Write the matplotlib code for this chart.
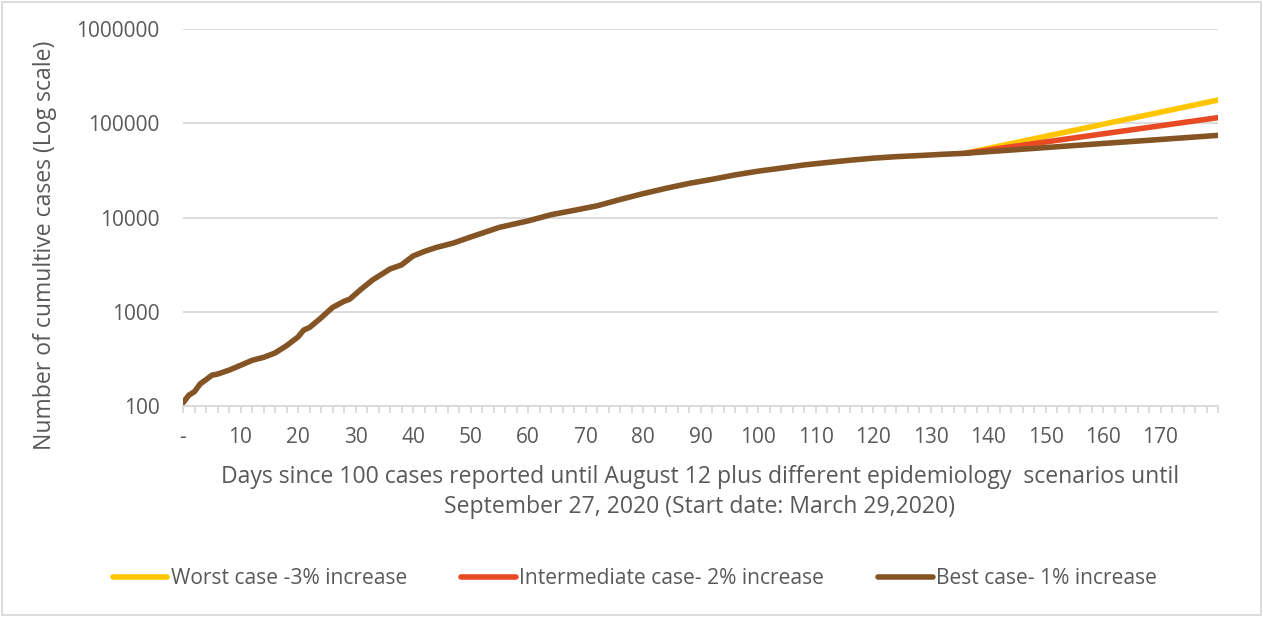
import matplotlib
matplotlib.use("Agg")
import matplotlib.pyplot as plt
from matplotlib.patches import Rectangle
from matplotlib.ticker import FixedLocator, FuncFormatter

plt.rcParams['font.family'] = ['Open Sans', 'DejaVu Sans']

hist_days = [0, 1, 2, 3, 4, 5, 6, 8, 10, 12, 14, 16, 18, 20, 21, 22, 24, 26, 28, 29,
             31, 33, 35, 36, 38, 40, 42, 44, 47, 50, 55, 60, 64, 68, 72, 76, 80, 84,
             88, 92, 96, 100, 104, 108, 112, 116, 120, 124, 128, 132, 136]
hist_cases = [108, 130, 142, 172, 190, 212, 218, 240, 270, 305, 328, 365, 436, 540,
              640, 680, 860, 1110, 1290, 1360, 1740, 2180, 2600, 2840, 3140, 3900,
              4370, 4800, 5350, 6200, 7850, 9200, 10700, 11900, 13300, 15500, 17900,
              20400, 23000, 25400, 28300, 31000, 33400, 36100, 38300, 40500, 42600,
              44200, 45400, 46800, 48000]

# scenario projections after August 12
proj_days = [136, 140, 150, 160, 170, 180]
worst = [48000, 54000, 72600, 97600, 131100, 176200]
inter = [48000, 52000, 63300, 77200, 94100, 114700]
best = [48000, 49950, 55200, 61000, 67300, 74400]

labels = ["Worst case -3% increase", "Intermediate case- 2% increase",
          "Best case- 1% increase"]
colors = ["#FFC600", "#E84B23", "#845424"]

fig = plt.figure(figsize=(12.63, 6.17), dpi=100)
ax = fig.add_axes([183/1263, 1-406/617, (1218-183)/1263, (406-29)/617])

lw = 4.0
ax.plot(proj_days, worst, color=colors[0], lw=lw, solid_capstyle='round', label=labels[0])
ax.plot(proj_days, inter, color=colors[1], lw=lw, solid_capstyle='round', label=labels[1])
ax.plot(hist_days + proj_days[1:], hist_cases + best[1:], color=colors[2], lw=lw,
        solid_capstyle='round', solid_joinstyle='round', label=labels[2])

ax.set_yscale('log')
ax.set_ylim(100, 1000000)
ax.set_xlim(0, 180)
ax.yaxis.set_major_locator(FixedLocator([100, 1000, 10000, 100000, 1000000]))
ax.yaxis.set_minor_locator(FixedLocator([]))
ax.yaxis.set_major_formatter(FuncFormatter(lambda v, p: "%d" % round(v)))
ax.xaxis.set_major_locator(FixedLocator(list(range(0, 181, 2))))


def xfmt(v, p):
    v = int(round(v))
    if v == 0:
        return "-"
    if v % 10 == 0 and v < 180:
        return str(v)
    return ""


ax.xaxis.set_major_formatter(FuncFormatter(xfmt))
ax.grid(axis='y', color='#d9d9d9', lw=1.3)
ax.set_axisbelow(True)
for s in ['top', 'right', 'left']:
    ax.spines[s].set_visible(False)
ax.spines['bottom'].set_color('#d9d9d9')
ax.spines['bottom'].set_linewidth(1.3)
ax.tick_params(axis='x', length=5, width=1.3, color='#d9d9d9', pad=10,
               labelsize=15, labelcolor='#595959')
ax.tick_params(axis='y', length=0, pad=17, labelsize=15, labelcolor='#595959')

fig.text(45/1263, 1-245/617, "Number of cumultive cases (Log scale)", rotation=90,
         ha='center', va='center', fontsize=16.6, color='#595959')
fig.text(700/1263, 1-492/617,
         "Days since 100 cases reported until August 12 plus different epidemiology  scenarios until\n"
         "September 27, 2020 (Start date: March 29,2020)",
         ha='center', va='center', multialignment='center', fontsize=16.6,
         color='#595959', linespacing=1.38)

fig.legend(loc='center', bbox_to_anchor=(635/1263, 1-579/617), ncol=3, frameon=False,
           fontsize=15.1, labelcolor='#595959', handlelength=2.6, handletextpad=0.15,
           columnspacing=2.6)

fig.patches.append(Rectangle((2/1263, 2/617), 1259/1263, 613/617, transform=fig.transFigure,
                             fill=False, edgecolor='#d9d9d9', lw=1.3))

fig.savefig("out.png", dpi=100)
